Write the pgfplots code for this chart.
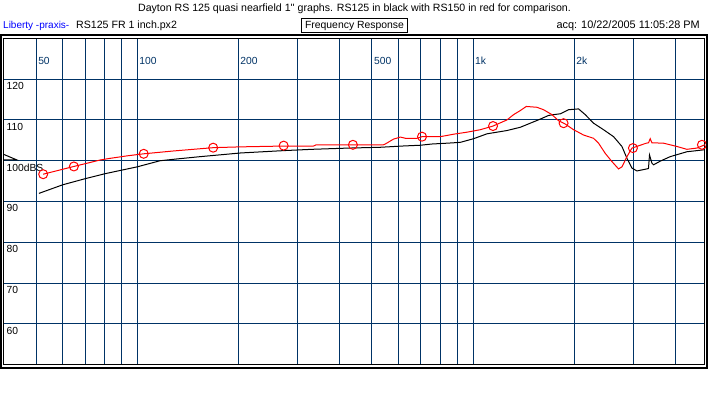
\documentclass[border=0pt]{standalone}
\usepackage{pgfplots}
\pgfplotsset{compat=1.18}
\usepackage{fontspec}
\setmainfont{Liberation Sans}[Ligatures=TeXOff]
\definecolor{gridblue}{RGB}{0,51,102}
\definecolor{libblue}{RGB}{0,0,255}
\begin{document}
\begin{tikzpicture}[font=\fontsize{10}{12}\selectfont]
\path[use as bounding box] (0,0) rectangle (709pt,395pt);
\fill[white] (0,0) rectangle (709pt,395pt);
\begin{axis}[
  at={(3.5pt,30.2pt)}, anchor=south west, scale only axis,
  width=701.3pt, height=326.5pt,
  xmode=log, xmin=40, xmax=4900, ymin=50, ymax=130,
  xtick={50,60,70,80,90,100,200,300,400,500,600,700,800,900,1000,2000,3000,4000},
  xticklabels={50,,,,,100,200,,,500,,,,,1k,2k,,},
  xticklabel pos=upper,
  xticklabel style={anchor=base west, inner sep=0pt, xshift=2pt, yshift=-26pt, text=gridblue, font=\fontsize{10.3}{12}\selectfont},
  ytick={60,70,80,90,100,110,120},
  yticklabels={60,70,80,90,100dBS,110,120},
  yticklabel style={anchor=base west, inner sep=0pt, xshift=3pt, yshift=-10.4pt, text=black, font=\fontsize{10.3}{12}\selectfont},
  major tick length=0pt, minor tick num=0,
  xmajorgrids, ymajorgrids,
  major grid style={gridblue, line width=1pt},
  axis line style={black, line width=1pt},
]
\addplot[black, line width=1pt] coordinates {
(51,92.0) (60,94.1) (70,95.6) (80,96.8) (90,97.7) (100,98.5) (117,100.0) (130,100.4)
(154,101.0) (203,101.9) (276,102.5) (332,102.8) (425,103.1) (530,103.3) (615,103.6)
(697,103.8) (755,104.1) (837,104.3) (916,104.5) (1004,105.4) (1101,106.6) (1262,107.4)
(1383,108.2) (1481,109.2) (1586,110.2) (1679,111.1) (1737,111.3) (1820,111.5)
(1925,112.5) (2062,112.7) (2158,111.3) (2285,109.2) (2447,107.6) (2621,105.9)
(2776,103.5) (2873,100.6) (2973,98.2) (3076,97.5) (3295,98.0) (3330,98.1)
(3354,101.4) (3410,99.4) (3448,99.0) (3610,99.9) (3865,101.0) (4333,102.2) (4900,102.7)
};
\addplot[red, line width=1pt] coordinates {
(52.5,96.7) (64.8,98.6) (77.8,100.2) (83.3,100.6) (93.4,101.2) (104.6,101.7)
(128.5,102.4) (168.4,103.2) (203,103.4) (273,103.6) (335,103.6) (341,103.9)
(541,103.9) (548,104.1) (580,105.3) (608,105.8) (629,105.5) (681,105.5) (705,105.9)
(799,105.9) (837,106.2) (875,106.5) (960,107.0) (1051,107.6) (1147,108.5)
(1262,110.0) (1321,111.3) (1383,112.3) (1441,113.3) (1550,113.1) (1622,112.5)
(1718,111.3) (1798,109.8) (1882,109.0) (1993,107.6) (2134,106.3) (2285,105.5)
(2365,104.3) (2476,101.8) (2592,99.8) (2712,98.0) (2776,98.5) (2873,101.0)
(2973,103.1) (3280,104.3) (3331,104.4) (3370,105.4) (3410,104.4) (3693,104.3)
(4046,103.5) (4333,102.8) (4640,103.1) (4900,103.9)
};
\addplot[red, only marks, mark=o, mark size=4.5pt, mark options={line width=1pt}] coordinates {
(52.5,96.7) (64.8,98.6) (104.6,101.7) (168.4,103.2) (273,103.7) (439,103.9)
(705,105.9) (1147,108.5) (1861,109.2) (2993,103.1) (4804,103.9)
};
\end{axis}
% reference-level marker
\draw[black, line width=1pt] (4pt,240.5pt) -- (17pt,235pt) -- (4pt,235pt);
% outer frame
\draw[black, line width=2pt] (1pt,359.7pt) rectangle (707.3pt,27.2pt);
% header texts
\node[anchor=base, inner sep=0pt, font=\fontsize{10.6}{12}\selectfont] at (354.5pt,383.3pt) {Dayton RS 125 quasi nearfield 1'' graphs. RS125 in black with RS150 in red for comparison.};
\node[anchor=base west, inner sep=0pt, text=libblue] at (3pt,366.8pt) {Liberty -praxis-};
\node[anchor=base west, inner sep=0pt, font=\fontsize{10.6}{12}\selectfont] at (76pt,366.8pt) {RS125 FR 1 inch.px2};
\draw[black, line width=1pt] (301.7pt,376pt) rectangle (407.3pt,362.3pt);
\node[anchor=base, inner sep=0pt, font=\fontsize{10.4}{12}\selectfont] at (354.5pt,366.8pt) {Frequency Response};
\node[anchor=base east, inner sep=0pt, font=\fontsize{10.9}{12}\selectfont] at (700pt,366.8pt) {acq: 10/22/2005 11:05:28 PM};
\end{tikzpicture}
\end{document}
